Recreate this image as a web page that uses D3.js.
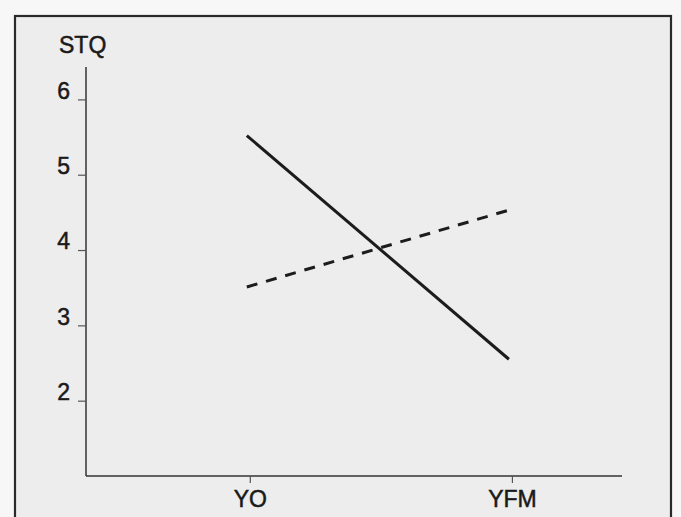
<!DOCTYPE html>
<html><head><meta charset="utf-8">
<script src="https://cdn.jsdelivr.net/npm/d3@7"></script>
<style>html,body{margin:0;padding:0;background:#f7f7f7;}svg{display:block;}</style>
</head><body>
<script>
const categories = ["YO", "YFM"];
const solidValues = [5.52, 2.55];
const dashedValues = [3.51, 4.53];
const yTicks = [2, 3, 4, 5, 6];
const yLabel = "STQ";

const W = 681, H = 517;
const svg = d3.select("body").append("svg").attr("width", W).attr("height", H);

svg.append("rect").attr("x", 0).attr("y", 0).attr("width", W).attr("height", H).attr("fill", "#f7f7f7");
svg.append("rect").attr("x", 15).attr("y", 16).attr("width", 656).attr("height", 520)
  .attr("fill", "#ededed").attr("stroke", "#2a2a2a").attr("stroke-width", 2.2);

const x = d3.scaleLinear().domain([-0.625, 1.42]).range([86, 622]);
const y = d3.scaleLinear().domain([1, 6.43]).range([476, 67]);

const font = "'Liberation Sans', Arial, sans-serif";

function styleText(sel) {
  sel.attr("font-family", font).attr("font-size", 23).attr("fill", "#1a1a1a")
    .attr("stroke", "#1a1a1a").attr("stroke-width", 0.5);
}

// Y axis
const gy = svg.append("g").attr("transform", "translate(86,0)")
  .call(d3.axisLeft(y).tickValues(yTicks).tickSize(8).tickPadding(8).tickFormat(d3.format("d")));
gy.select(".domain").attr("stroke", "#333").attr("stroke-width", 1.5).attr("d", `M0,${y(6.43)}V${y(1)}`);
gy.selectAll(".tick line").attr("stroke", "#555").attr("stroke-width", 1.2);
gy.selectAll(".tick text").call(styleText).attr("dy", "-0.05em").attr("x", -16);

// X axis
const gx = svg.append("g").attr("transform", "translate(0,476)")
  .call(d3.axisBottom(x).tickValues([0, 1]).tickSize(7).tickPadding(8).tickFormat(i => categories[i]));
gx.select(".domain").attr("stroke", "#333").attr("stroke-width", 1.5).attr("d", `M${x(-0.625)},0H${x(1.42)}`);
gx.selectAll(".tick line").attr("stroke", "#555").attr("stroke-width", 1.2);
gx.selectAll(".tick text").call(styleText);

// Y label
svg.append("text").attr("x", 59).attr("y", 53).call(styleText).text(yLabel);

const line = d3.line().x((d, i) => x(i) - 3).y(d => y(d));
svg.append("path").datum(solidValues).attr("d", line).attr("fill", "none")
  .attr("stroke", "#1c1c1c").attr("stroke-width", 3);
svg.append("path").datum(dashedValues).attr("d", line).attr("fill", "none")
  .attr("stroke", "#1c1c1c").attr("stroke-width", 3).attr("stroke-dasharray", "11,9");
</script>
</body></html>
